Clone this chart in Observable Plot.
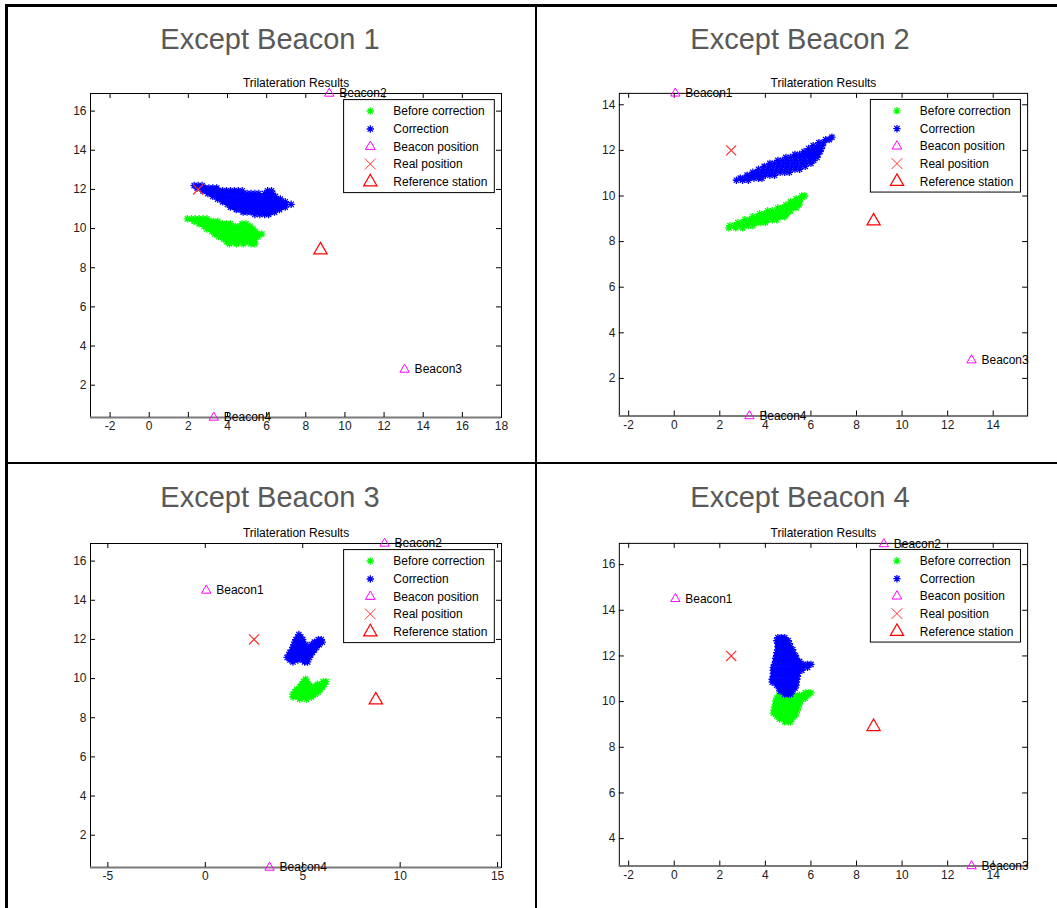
<!DOCTYPE html>
<html><head><meta charset="utf-8">
<script src="https://cdn.jsdelivr.net/npm/d3@7"></script>
<script src="https://cdn.jsdelivr.net/npm/@observablehq/plot@0.6"></script>
<style>
body{margin:0;background:#fff;}
#fig{position:relative;width:1057px;height:908px;overflow:hidden;background:#fff;font-family:"Liberation Sans",Arial,sans-serif;}
.line{position:absolute;background:#000;}
.bigtitle{position:absolute;width:400px;text-align:center;font-size:29px;color:#595959;line-height:29px;white-space:nowrap;}
.panel{position:absolute;}
</style></head><body><div id="fig"></div>
<script>
// ---------------- data ----------------
const panelTitles = ["Except Beacon 1", "Except Beacon 2", "Except Beacon 3", "Except Beacon 4"];
const subTitle = "Trilateration Results";
const legendLabels = ["Before correction", "Correction", "Beacon position", "Real position", "Reference station"];
const beaconNames = ["Beacon1", "Beacon2", "Beacon3", "Beacon4"];
const beaconX = [0.05, 9.2, 13.05, 3.3];
const beaconY = [14.5, 16.9, 2.8, 0.35];
const refStationX = [8.75];
const refStationY = [8.9];
const realPosX = [2.5];
const realPosY = [12.0];

const xTicks1 = [-2, 0, 2, 4, 6, 8, 10, 12, 14, 16, 18];
const yTicks1 = [2, 4, 6, 8, 10, 12, 14, 16];
const xTicks2 = [-2, 0, 2, 4, 6, 8, 10, 12, 14];
const yTicks2 = [2, 4, 6, 8, 10, 12, 14];
const xTicks3 = [-5, 0, 5, 10, 15];
const yTicks3 = [2, 4, 6, 8, 10, 12, 14, 16];
const xTicks4 = [-2, 0, 2, 4, 6, 8, 10, 12, 14];
const yTicks4 = [4, 6, 8, 10, 12, 14, 16];

const xDomain1 = [-3, 18], yDomain1 = [0.35, 16.9];
const xDomain2 = [-2.41, 15.51], yDomain2 = [0.35, 14.5];
const xDomain3 = [-5.89, 15.2], yDomain3 = [0.35, 16.9];
const xDomain4 = [-2.41, 15.51], yDomain4 = [2.8, 16.93];

// cluster rows: [y, [x values]]
const p1Before = [
 [10.5,[1.95,2.15,2.35,2.55,2.75,2.95]],
 [10.37,[2.3,2.5,2.7,2.9,3.1,3.3,3.5]],
 [10.24,[2.55,2.75,2.95,3.15,3.35,3.55,3.75,3.95,4.15,4.75,4.95]],
 [10.11,[2.8,3.0,3.2,3.4,3.6,3.8,4.0,4.2,4.4,4.6,4.8,5.0,5.15]],
 [9.98,[2.95,3.15,3.35,3.55,3.75,3.95,4.15,4.35,4.55,4.75,4.95,5.15,5.3]],
 [9.85,[3.2,3.4,3.6,3.8,4.0,4.2,4.4,4.6,4.8,5.0,5.2,5.4]],
 [9.72,[3.35,3.55,3.75,3.95,4.15,4.35,4.55,4.75,4.95,5.15,5.35,5.55,5.75]],
 [9.59,[3.55,3.75,3.95,4.15,4.35,4.55,4.75,4.95,5.15,5.35,5.55]],
 [9.46,[3.8,4.0,4.2,4.4,4.6,4.8,5.0,5.2,5.4]],
 [9.33,[3.95,4.15,4.35,4.55,4.75,4.95,5.15,5.35]],
 [9.22,[4.1,4.45,4.8,5.2,5.4]]
];
const p1Correction = [
 [12.2,[2.3,2.5,2.7]],
 [12.07,[2.45,2.65,2.85,3.05,3.25,3.45]],
 [11.93,[2.75,2.95,3.15,3.35,3.55,3.75,3.95,4.15,4.35,4.55,4.75,6.05,6.25]],
 [11.79,[3.0,3.2,3.4,3.6,3.8,4.0,4.2,4.4,4.6,4.8,5.0,5.2,5.4,5.6,5.9,6.1,6.3]],
 [11.65,[3.25,3.45,3.65,3.85,4.05,4.25,4.45,4.65,4.85,5.05,5.25,5.45,5.65,5.85,6.05,6.25,6.45]],
 [11.51,[3.5,3.7,3.9,4.1,4.3,4.5,4.7,4.9,5.1,5.3,5.5,5.7,5.9,6.1,6.3,6.5,6.7]],
 [11.37,[3.75,3.95,4.15,4.35,4.55,4.75,4.95,5.15,5.35,5.55,5.75,5.95,6.15,6.35,6.55,6.75,6.95]],
 [11.24,[4.0,4.2,4.4,4.6,4.8,5.0,5.2,5.4,5.6,5.8,6.0,6.2,6.4,6.6,6.8,7.0,7.25]],
 [11.1,[4.15,4.35,4.55,4.75,4.95,5.15,5.35,5.55,5.75,5.95,6.15,6.35,6.55,6.75,6.95]],
 [10.97,[4.45,4.65,4.85,5.05,5.25,5.45,5.65,5.85,6.05,6.25,6.45,6.65]],
 [10.84,[4.8,5.0,5.2,5.4,5.6,5.8,6.0,6.2,6.4]],
 [10.72,[5.4,5.65,5.9,6.1]]
];
const p2Before = [
 [10.0,[5.6,5.72]],
 [9.87,[5.35,5.55]],
 [9.74,[5.1,5.3,5.5]],
 [9.61,[4.9,5.1,5.3,5.48]],
 [9.48,[4.55,4.75,4.95,5.15,5.35]],
 [9.35,[4.1,4.3,4.5,4.7,4.9,5.1]],
 [9.22,[3.75,3.95,4.15,4.35,4.55,4.75,4.95]],
 [9.09,[3.45,3.65,3.85,4.05,4.25,4.45,4.65,4.85]],
 [8.96,[3.1,3.3,3.5,3.7,3.9,4.1,4.3,4.5]],
 [8.83,[2.8,3.0,3.2,3.4,3.6,3.8,4.0]],
 [8.7,[2.45,2.65,2.85,3.05,3.25,3.45]],
 [8.6,[2.4,2.7,3.0]]
];
const p2Correction = [
 [12.58,[6.92]],
 [12.47,[6.65,6.8]],
 [12.34,[6.35,6.55]],
 [12.21,[6.1,6.3,6.5]],
 [12.08,[5.9,6.1,6.3,6.45]],
 [11.95,[5.7,5.9,6.1,6.3,6.4]],
 [11.82,[5.3,5.5,5.7,5.9,6.1,6.3]],
 [11.69,[4.9,5.1,5.3,5.5,5.7,5.9,6.1,6.27]],
 [11.56,[4.55,4.75,4.95,5.15,5.35,5.55,5.75,5.95,6.12]],
 [11.43,[4.2,4.4,4.6,4.8,5.0,5.2,5.4,5.6,5.8,6.0]],
 [11.3,[3.95,4.15,4.35,4.55,4.75,4.95,5.15,5.35,5.55,5.75]],
 [11.17,[3.7,3.9,4.1,4.3,4.5,4.7,4.9,5.1,5.3,5.5]],
 [11.04,[3.45,3.65,3.85,4.05,4.25,4.45,4.65,4.85,5.05]],
 [10.91,[3.2,3.4,3.6,3.8,4.0,4.2,4.4]],
 [10.78,[2.9,3.1,3.3,3.5,3.7,3.85]],
 [10.69,[2.73,3.0,3.25]]
];
const p3Before = [
 [9.97,[5.15]],
 [9.84,[5.05,5.2,6.05,6.2]],
 [9.71,[4.95,5.15,5.3,5.75,5.95,6.1]],
 [9.58,[4.85,5.05,5.25,5.45,5.65,5.85,6.0]],
 [9.45,[4.7,4.9,5.1,5.3,5.5,5.7,5.9]],
 [9.32,[4.6,4.8,5.0,5.2,5.4,5.6,5.8]],
 [9.19,[4.5,4.7,4.9,5.1,5.3,5.5,5.65]],
 [9.06,[4.5,4.75,5.0,5.25,5.45]],
 [8.95,[4.85,5.2]]
];
const p3Correction = [
 [12.25,[4.8]],
 [12.12,[4.75,4.9]],
 [11.99,[4.65,4.85,5.0,5.8,5.95]],
 [11.86,[4.6,4.8,5.0,5.6,5.8,6.0]],
 [11.73,[4.55,4.75,4.95,5.15,5.45,5.65,5.85]],
 [11.6,[4.5,4.7,4.9,5.1,5.3,5.5,5.7]],
 [11.47,[4.45,4.65,4.85,5.05,5.25,5.45,5.6]],
 [11.34,[4.35,4.55,4.75,4.95,5.15,5.35,5.5]],
 [11.21,[4.3,4.5,4.7,4.9,5.1,5.3,5.4]],
 [11.08,[4.2,4.4,4.6,4.8,5.0,5.2,5.35]],
 [10.95,[4.35,4.55,4.75,5.0,5.2]],
 [10.85,[4.5,5.1,5.25]]
];
const p4Before = [
 [10.38,[5.75,5.9,6.0]],
 [10.28,[4.6,4.78,4.96,5.14,5.32,5.5,5.68,5.86]],
 [10.15,[4.5,4.68,4.86,5.04,5.22,5.4,5.58,5.75]],
 [10.02,[4.45,4.63,4.81,4.99,5.17,5.35,5.55]],
 [9.89,[4.45,4.63,4.81,4.99,5.17,5.35,5.5]],
 [9.76,[4.4,4.58,4.76,4.94,5.12,5.3,5.45]],
 [9.63,[4.38,4.56,4.74,4.92,5.1,5.28,5.4]],
 [9.5,[4.35,4.53,4.71,4.89,5.07,5.25,5.35]],
 [9.37,[4.5,4.68,4.86,5.04,5.22,5.3]],
 [9.24,[4.62,4.8,4.98,5.16]],
 [9.12,[4.85,5.0,5.1]]
];
const p4Correction = [
 [12.8,[4.55,4.7,4.85]],
 [12.67,[4.5,4.68,4.86,5.0]],
 [12.54,[4.55,4.73,4.91,5.05]],
 [12.41,[4.55,4.73,4.91,5.09]],
 [12.28,[4.55,4.73,4.91,5.09,5.2]],
 [12.15,[4.5,4.68,4.86,5.04,5.22]],
 [12.02,[4.5,4.68,4.86,5.04,5.22,5.32]],
 [11.89,[4.45,4.63,4.81,4.99,5.17,5.35]],
 [11.76,[4.45,4.63,4.81,4.99,5.17,5.35,5.5]],
 [11.63,[4.4,4.58,4.76,4.94,5.12,5.3,5.48,5.66,5.84,6.0]],
 [11.5,[4.35,4.53,4.71,4.89,5.07,5.25,5.43,5.65,5.85]],
 [11.37,[4.35,4.53,4.71,4.89,5.07,5.25,5.43,5.6]],
 [11.24,[4.35,4.53,4.71,4.89,5.07,5.25,5.43]],
 [11.11,[4.35,4.53,4.71,4.89,5.07,5.25,5.4]],
 [10.98,[4.3,4.48,4.66,4.84,5.02,5.2,5.38]],
 [10.85,[4.3,4.48,4.66,4.84,5.02,5.2,5.36]],
 [10.72,[4.5,4.68,4.86,5.04,5.22,5.35]],
 [10.59,[4.6,4.78,4.96,5.14,5.3]],
 [10.46,[4.65,4.83,5.0,5.18]],
 [10.33,[4.85,5.0,5.1]]
];

// ---------------- styling ----------------
const FONT = '"Liberation Sans", Arial, Helvetica, sans-serif';
const GREEN = "#00ff00", BLUE = "#0000ff", MAGENTA = "#ff00ff", RED = "#ff0000", XRED = "#ff3030";

const asterisk = {draw(ctx, size) {
  const r = Math.sqrt(size / Math.PI), d = r * 0.72;
  ctx.moveTo(-r, 0); ctx.lineTo(r, 0);
  ctx.moveTo(0, -r); ctx.lineTo(0, r);
  ctx.moveTo(-d, -d); ctx.lineTo(d, d);
  ctx.moveTo(-d, d); ctx.lineTo(d, -d);
}};
const cross = {draw(ctx, size) {
  const r = Math.sqrt(size / Math.PI) * 0.72;
  ctx.moveTo(-r, -r); ctx.lineTo(r, r);
  ctx.moveTo(-r, r); ctx.lineTo(r, -r);
}};
const tri = {draw(ctx, size) {
  const r = Math.sqrt(size / Math.PI);
  ctx.moveTo(0, -r); ctx.lineTo(r * 0.866, r * 0.5); ctx.lineTo(-r * 0.866, r * 0.5); ctx.closePath();
}};

const panels = [
  {title: panelTitles[0], before: p1Before, correction: p1Correction, beacons: [1,2,3], xDomain: xDomain1, yDomain: yDomain1, xTicks: xTicks1, yTicks: yTicks1,
   frame: {left: 90, top: 93, w: 411, h: 324}, titlePos: {cx: 270, top: 25}},
  {title: panelTitles[1], before: p2Before, correction: p2Correction, beacons: [0,2,3], xDomain: xDomain2, yDomain: yDomain2, xTicks: xTicks2, yTicks: yTicks2,
   frame: {left: 619, top: 93, w: 410, h: 324}, titlePos: {cx: 800, top: 25}},
  {title: panelTitles[2], before: p3Before, correction: p3Correction, beacons: [0,1,3], xDomain: xDomain3, yDomain: yDomain3, xTicks: xTicks3, yTicks: yTicks3,
   frame: {left: 90, top: 543, w: 411, h: 324}, titlePos: {cx: 270, top: 483}},
  {title: panelTitles[3], before: p4Before, correction: p4Correction, beacons: [0,1,2], xDomain: xDomain4, yDomain: yDomain4, xTicks: xTicks4, yTicks: yTicks4,
   frame: {left: 619, top: 543, w: 410, h: 324}, titlePos: {cx: 800, top: 483}}
];

const fig = document.getElementById("fig");
// cell borders
[[5,4,1052,3],[5,4,3,904],[535,4,2,904],[5,462,1052,2]].forEach(([l,t,w,h]) => {
  const d = document.createElement("div"); d.className = "line";
  Object.assign(d.style, {left: l+"px", top: t+"px", width: w+"px", height: h+"px"});
  fig.appendChild(d);
});

function rowsToPoints(rows) { return rows.flatMap(([y, xs]) => xs.map(x => ({x, y}))); }

const ml = 45, mr = 30, mt = 30, mb = 30;
const realPos = realPosX.map((x, i) => ({x, y: realPosY[i]}));
const refStation = refStationX.map((x, i) => ({x, y: refStationY[i]}));

panels.forEach(p => {
  const W = p.frame.w, H = p.frame.h;
  const beacons = p.beacons.map(i => ({name: beaconNames[i], x: beaconX[i], y: beaconY[i]}));
  const svg = Plot.plot({
    width: W + ml + mr, height: H + mt + mb,
    marginLeft: ml, marginRight: mr, marginTop: mt, marginBottom: mb,
    x: {domain: p.xDomain}, y: {domain: p.yDomain},
    style: {fontFamily: FONT, fontSize: "12px", background: "transparent", overflow: "visible", color: "#000"},
    marks: [
      Plot.dot(rowsToPoints(p.before), {x: "x", y: "y", symbol: asterisk, r: 3.7, stroke: GREEN, strokeWidth: 1.3}),
      Plot.dot(rowsToPoints(p.correction), {x: "x", y: "y", symbol: asterisk, r: 3.7, stroke: BLUE, strokeWidth: 1.3}),
      Plot.dot(realPos, {x: "x", y: "y", symbol: cross, r: 7, stroke: XRED, strokeWidth: 1.2}),
      Plot.dot(refStation, {x: "x", y: "y", symbol: tri, r: 7.7, stroke: RED, strokeWidth: 1.2}),
      Plot.frame({stroke: "#000", strokeWidth: 1}),
      Plot.ruleY([p.yDomain[0]], {stroke: "#7a7a7a", strokeWidth: 2}),
      Plot.tickX(p.xTicks, {x: d => d, insetTop: H - 5, stroke: "#000"}),
      Plot.tickX(p.xTicks, {x: d => d, insetBottom: H - 5, stroke: "#000"}),
      Plot.tickY(p.yTicks, {y: d => d, insetRight: W - 5, stroke: "#000"}),
      Plot.tickY(p.yTicks, {y: d => d, insetLeft: W - 5, stroke: "#000"}),
      Plot.axisX(p.xTicks, {anchor: "bottom", tickSize: 0, tickPadding: 4, tickFormat: d => String(d), label: null, fontSize: 12, color: "#222"}),
      Plot.axisY(p.yTicks, {anchor: "left", tickSize: 0, tickPadding: 4, tickFormat: d => String(d), label: null, fontSize: 12, color: "#222"}),
      Plot.dot(beacons, {x: "x", y: "y", symbol: tri, r: 5.4, stroke: MAGENTA, strokeWidth: 1}),
      Plot.text(beacons, {x: "x", y: "y", text: "name", dx: 10, textAnchor: "start", fill: "#000", fontSize: 12}),
      Plot.text([subTitle], {frameAnchor: "top", text: d => d, dy: -15, fontSize: 12, fill: "#000"})
    ]
  });
  // legend box
  const lw = 150.7, lh = 93;
  const g = d3.select(svg).append("g")
    .attr("transform", `translate(${ml + W - 6.7 - lw},${mt + 6.6})`)
    .attr("font-family", FONT).attr("font-size", 12).attr("text-anchor", "start");
  g.append("rect").attr("x", 0).attr("y", 0).attr("width", lw).attr("height", lh)
    .attr("fill", "#fff").attr("stroke", "#000").attr("stroke-width", 1);
  const rowY = [11.4, 29.4, 47, 64.4, 82.4];
  const entries = [
    {sym: asterisk, r: 3.7, color: GREEN, sw: 1.3},
    {sym: asterisk, r: 3.7, color: BLUE, sw: 1.3},
    {sym: tri, r: 5.6, color: MAGENTA, sw: 1},
    {sym: cross, r: 7.5, color: XRED, sw: 1},
    {sym: tri, r: 7.7, color: RED, sw: 1.2}
  ];
  entries.forEach((e, i) => {
    g.append("path").attr("d", d3.symbol(e.sym, Math.PI * e.r * e.r)())
      .attr("transform", `translate(26.7,${rowY[i]})`)
      .attr("fill", "none").attr("stroke", e.color).attr("stroke-width", e.sw);
    g.append("text").attr("x", 49.7).attr("y", rowY[i]).attr("dy", "0.35em")
      .attr("text-anchor", "start").attr("fill", "#000").text(legendLabels[i]);
  });

  const wrap = document.createElement("div");
  wrap.className = "panel";
  wrap.style.left = (p.frame.left - ml) + "px";
  wrap.style.top = (p.frame.top - mt) + "px";
  wrap.appendChild(svg);
  fig.appendChild(wrap);

  const t = document.createElement("div");
  t.className = "bigtitle";
  t.textContent = p.title;
  t.style.left = (p.titlePos.cx - 200) + "px";
  t.style.top = p.titlePos.top + "px";
  fig.appendChild(t);
});
</script></body></html>
